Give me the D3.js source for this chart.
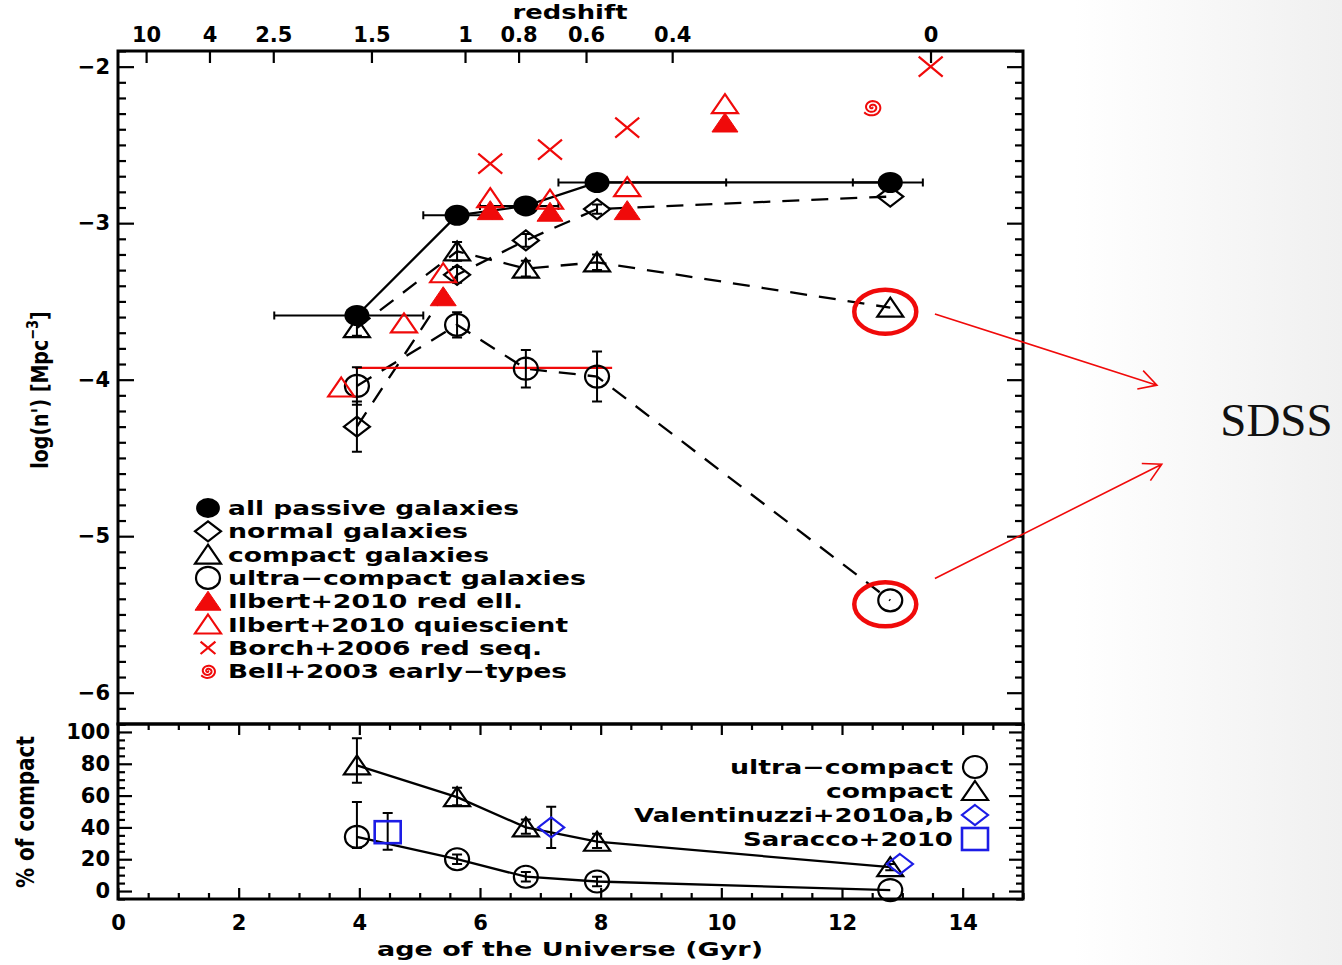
<!DOCTYPE html>
<html>
<head>
<meta charset="utf-8">
<title>Number density of passive galaxies vs cosmic time</title>
<script src="https://cdn.jsdelivr.net/npm/d3@7"></script>
<style>
  html, body { margin: 0; padding: 0; background: #fff; }
  svg { display: block; }
</style>
</head>
<body>
<svg id="chart" width="1342" height="965"></svg>
<script>
// ---------- data ----------
// bin centres and bin edges in age of the Universe (Gyr); the last bin is SDSS
const binAge   = [3.96, 5.62, 6.76, 7.94, 12.8];
const binAgeLo = [2.59, 5.06, 6.0, 7.3, 12.18];
const binAgeHi = [5.06, 6.2, 7.3, 10.08, 13.34];

// log number density, log(n) [Mpc^-3]
const allPassive    = [-3.59, -2.95, -2.89, -2.74, -2.74];
const allPassiveErr = [0.04, 0.03, 0.03, 0.03, 0.02];
const normalGal     = [-4.30, -3.33, -3.11, -2.91, -2.83];
const normalErr     = [0.16, 0.05, 0.04, 0.03, 0];
const compactGal    = [-3.67, -3.18, -3.29, -3.25, -3.54];
const compactErr    = [0.05, 0.06, 0.05, 0.05, 0];
const ultraGal      = [-4.04, -3.65, -3.93, -3.98, -5.41];
const ultraErr      = [0.12, 0.08, 0.12, 0.16, 0];

// literature comparison
const ilbertAge    = [5.39, 6.17, 7.16, 8.44, 10.06];
const ilbertRedEll = [-3.47, -2.92, -2.93, -2.92, -2.36];
const ilbertQAge   = [3.70, 4.74, 5.39, 6.17, 7.16, 8.44, 10.06];
const ilbertQuiesc = [-4.05, -3.64, -3.32, -2.84, -2.85, -2.77, -2.24];
const borchAge     = [6.17, 7.16, 8.44, 13.47];
const borchRedSeq  = [-2.62, -2.53, -2.39, -2.00];
const bellAge      = [12.5];
const bellEarly    = [-2.26];

// level marked by the red guide line, and its extent in age
const guideLevel = -3.925;
const guideSpan  = [3.93, 8.19];

// percentage of compact galaxies
const pctCompact   = [79, 59, 40, 31, 15];
const pctCompactLo = [68, 54, 36, 27, 13];
const pctCompactHi = [96, 65, 45, 36, 17];
const pctUltra     = [34, 20, 9, 6, 0.6];
const pctUltraLo   = [27, 17, 6, 3, 0.6];
const pctUltraHi   = [56, 23, 12, 9, 0.6];
const valentAge    = [7.18, 12.96];
const valentPct    = [40, 17];
const valentLo     = [27, 17];
const valentHi     = [53, 17];
const saraccoAge   = [4.47];
const saraccoPct   = [37];
const saraccoLo    = [26];
const saraccoHi    = [49];

// axis ticks and labels
const ageTicks       = [0, 2, 4, 6, 8, 10, 12, 14];
const redshiftTicks  = [10, 4, 2.5, 1.5, 1, 0.8, 0.6, 0.4, 0];
const redshiftLabels = ["10", "4", "2.5", "1.5", "1", "0.8", "0.6", "0.4", "0"];
const logTicks       = [-6, -5, -4, -3, -2];
const pctTicks       = [0, 20, 40, 60, 80, 100];

const densityLegend  = ["all passive galaxies", "normal galaxies", "compact galaxies",
                        "ultra\u2212compact galaxies", "Ilbert+2010 red ell.",
                        "Ilbert+2010 quiescient", "Borch+2006 red seq.", "Bell+2003 early\u2212types"];
const fractionLegend = ["ultra\u2212compact", "compact", "Valentinuzzi+2010a,b", "Saracco+2010"];

// ---------- setup ----------
const W = 1342, H = 965;
const FONT = '"DejaVu Sans", "Liberation Sans", Arial, sans-serif';
const RED = "#f00a0a", BLUE = "#1c1ce6", INK = "#000";

const frame = { left: 118, right: 1023, top: 51, mid: 724, bottom: 899 };
const x  = d3.scaleLinear().domain([0, 15]).range([frame.left, frame.right]);
const y  = d3.scaleLinear().domain([-6.2, -1.9]).range([frame.mid, frame.top]);
const yp = d3.scaleLinear().domain([-5, 105]).range([frame.bottom, frame.mid]);

// flat LambdaCDM age-redshift relation for the top axis
const H0 = 70, OmegaM = 0.3, OmegaL = 0.7;
const hubbleTimeGyr = 977.8 / H0;
const ageAtRedshift = z => hubbleTimeGyr * 2 / (3 * Math.sqrt(OmegaL)) *
  Math.asinh(Math.sqrt(OmegaL / OmegaM) * Math.pow(1 + z, -1.5));

const svg = d3.select("#chart");
const defs = svg.append("defs");
const bg = defs.append("linearGradient").attr("id", "slideBg")
  .attr("x1", 0).attr("x2", 1).attr("y1", 0).attr("y2", 0);
bg.append("stop").attr("offset", "0.8").attr("stop-color", "#ffffff");
bg.append("stop").attr("offset", "1").attr("stop-color", "#f0f0f0");
svg.append("rect").attr("width", W).attr("height", H).attr("fill", "url(#slideBg)");

// ---------- axes ----------
function finishAxis(g) {
  g.select(".domain").remove();
  g.selectAll(".tick line").attr("stroke", INK).attr("stroke-width", 2.2);
  g.selectAll(".tick text").attr("fill", INK).attr("font-family", FONT)
    .attr("font-weight", "bold").attr("font-size", 21);
}
const noLabel = () => "";
const intLabel = d3.format("d");
const logMinor = d3.range(-62, -18).map(k => k / 10).filter(v => Math.abs(v - Math.round(v)) > 1e-6);
const pctMinor = d3.range(-1, 22).map(k => k * 5).filter(v => v % 20 !== 0);
const ageMinor = d3.range(0, 31).map(k => k / 2).filter(v => v % 2 !== 0);

function addAxis(axis, tx, ty) {
  svg.append("g").attr("transform", `translate(${tx},${ty})`).call(axis).call(finishAxis);
}
// density panel
addAxis(d3.axisLeft(y).tickValues(logTicks).tickSize(-16).tickPadding(8).tickFormat(intLabel), frame.left, 0);
addAxis(d3.axisLeft(y).tickValues(logMinor).tickSize(-8).tickFormat(noLabel), frame.left, 0);
addAxis(d3.axisRight(y).tickValues(logTicks).tickSize(-16).tickFormat(noLabel), frame.right, 0);
addAxis(d3.axisRight(y).tickValues(logMinor).tickSize(-8).tickFormat(noLabel), frame.right, 0);
addAxis(d3.axisTop(x).tickValues(redshiftTicks.map(ageAtRedshift)).tickSize(-12).tickPadding(9)
  .tickFormat((d, i) => redshiftLabels[i]), 0, frame.top);
// fraction panel
addAxis(d3.axisLeft(yp).tickValues(pctTicks).tickSize(-14).tickPadding(8).tickFormat(intLabel), frame.left, 0);
addAxis(d3.axisLeft(yp).tickValues(pctMinor).tickSize(-7).tickFormat(noLabel), frame.left, 0);
addAxis(d3.axisRight(yp).tickValues(pctTicks).tickSize(-14).tickFormat(noLabel), frame.right, 0);
addAxis(d3.axisRight(yp).tickValues(pctMinor).tickSize(-7).tickFormat(noLabel), frame.right, 0);
addAxis(d3.axisBottom(x).tickValues(ageTicks).tickSize(-11).tickPadding(16).tickFormat(intLabel), 0, frame.bottom);
addAxis(d3.axisBottom(x).tickValues(ageMinor).tickSize(-6).tickFormat(noLabel), 0, frame.bottom);
addAxis(d3.axisTop(x).tickValues(ageTicks).tickSize(-11).tickFormat(noLabel), 0, frame.mid);
addAxis(d3.axisTop(x).tickValues(ageMinor).tickSize(-6).tickFormat(noLabel), 0, frame.mid);

// panel frames
[[frame.top, frame.mid], [frame.mid, frame.bottom]].forEach(([t, b]) => {
  svg.append("rect").attr("x", frame.left).attr("y", t)
    .attr("width", frame.right - frame.left).attr("height", b - t)
    .attr("fill", "none").attr("stroke", INK).attr("stroke-width", 3);
});

// ---------- marks ----------
function marker(g, type, cx, cy, color, s = 1) {
  const hw = 12 * s, hh = 10 * s;
  const stroke = el => el.attr("fill", "none").attr("stroke", color).attr("stroke-width", 2.2);
  switch (type) {
    case "dot":
      g.append("ellipse").attr("cx", cx).attr("cy", cy).attr("rx", hw + 0.5).attr("ry", hh + 0.5).attr("fill", color);
      break;
    case "circle":
      stroke(g.append("ellipse").attr("cx", cx).attr("cy", cy).attr("rx", hw).attr("ry", hh + 1));
      break;
    case "diamond":
      stroke(g.append("path").attr("d",
        `M${cx},${cy - hh}L${cx + hw + 1},${cy}L${cx},${cy + hh}L${cx - hw - 1},${cy}Z`));
      break;
    case "triangle":
    case "triFill": {
      const p = g.append("path").attr("d",
        `M${cx},${cy - hh}L${cx + hw + 1},${cy + hh * 0.9}L${cx - hw - 1},${cy + hh * 0.9}Z`);
      if (type === "triFill") p.attr("fill", color).attr("stroke", color).attr("stroke-width", 1);
      else stroke(p);
      break;
    }
    case "cross":
      stroke(g.append("path").attr("d",
        `M${cx - hw},${cy - hh}L${cx + hw},${cy + hh}M${cx - hw},${cy + hh}L${cx + hw},${cy - hh}`));
      break;
    case "square":
      stroke(g.append("rect").attr("x", cx - hw - 1).attr("y", cy - hh - 1)
        .attr("width", 2 * hw + 2).attr("height", 2 * hh + 2)).attr("stroke-width", 2.6);
      break;
    case "spiral": {
      const turns = 2.4, n = 90, rMax = 8.5 * s, tMax = turns * 2 * Math.PI;
      const pts = d3.range(n + 1).map(k => {
        const t = k / n * tMax, r = rMax * k / n;
        return [cx + 1.15 * r * Math.cos(t), cy + r * Math.sin(t)];
      });
      stroke(g.append("path").attr("d", d3.line()(pts))).attr("stroke-width", 2);
      break;
    }
  }
}
function vBar(g, px, pyTop, pyBot, color, cap = 5) {
  g.append("path").attr("fill", "none").attr("stroke", color).attr("stroke-width", 2)
    .attr("d", `M${px},${pyTop}V${pyBot}M${px - cap},${pyTop}H${px + cap}M${px - cap},${pyBot}H${px + cap}`);
}
function hBar(g, pxL, pxR, py, color, cap = 4) {
  g.append("path").attr("fill", "none").attr("stroke", color).attr("stroke-width", 2)
    .attr("d", `M${pxL},${py}H${pxR}M${pxL},${py - cap}V${py + cap}M${pxR},${py - cap}V${py + cap}`);
}
const zip = (xs, ys) => xs.map((v, i) => [v, ys[i]]);
function connect(g, xs, ys, yScale, dashed) {
  const p = g.append("path").attr("d", d3.line().x(d => x(d[0])).y(d => yScale(d[1]))(zip(xs, ys)))
    .attr("fill", "none").attr("stroke", INK).attr("stroke-width", 2.3);
  if (dashed) p.attr("stroke-dasharray", "17,12");
}

// density panel
const gUp = svg.append("g");
connect(gUp, binAge, normalGal, y, true);
connect(gUp, binAge, compactGal, y, true);
connect(gUp, binAge, ultraGal, y, true);
connect(gUp, binAge, allPassive, y, false);

gUp.append("line").attr("x1", x(guideSpan[0])).attr("x2", x(guideSpan[1]))
  .attr("y1", y(guideLevel)).attr("y2", y(guideLevel))
  .attr("stroke", RED).attr("stroke-width", 2.2);

[[normalGal, normalErr, "diamond"], [compactGal, compactErr, "triangle"], [ultraGal, ultraErr, "circle"]]
  .forEach(([vals, errs, type]) => {
    vals.forEach((v, i) => {
      if (errs[i] > 0) vBar(gUp, x(binAge[i]), y(v + errs[i]), y(v - errs[i]), INK);
      marker(gUp, type, x(binAge[i]), y(v), INK);
    });
  });
allPassive.forEach((v, i) => {
  hBar(gUp, x(binAgeLo[i]), x(binAgeHi[i]), y(v), INK);
  vBar(gUp, x(binAge[i]), y(v + allPassiveErr[i]), y(v - allPassiveErr[i]), INK, 4);
  marker(gUp, "dot", x(binAge[i]), y(v), INK);
});
ilbertRedEll.forEach((v, i) => marker(gUp, "triFill", x(ilbertAge[i]), y(v), RED));
ilbertQuiesc.forEach((v, i) => marker(gUp, "triangle", x(ilbertQAge[i]), y(v), RED));
borchRedSeq.forEach((v, i) => marker(gUp, "cross", x(borchAge[i]), y(v), RED));
bellEarly.forEach((v, i) => marker(gUp, "spiral", x(bellAge[i]), y(v), RED));

// fraction panel
const gLo = svg.append("g");
connect(gLo, binAge, pctCompact, yp, false);
connect(gLo, binAge, pctUltra, yp, false);
pctCompact.forEach((v, i) => {
  if (pctCompactHi[i] > pctCompactLo[i]) vBar(gLo, x(binAge[i]), yp(pctCompactHi[i]), yp(pctCompactLo[i]), INK);
  marker(gLo, "triangle", x(binAge[i]), yp(v), INK);
});
pctUltra.forEach((v, i) => {
  if (pctUltraHi[i] > pctUltraLo[i]) vBar(gLo, x(binAge[i]), yp(pctUltraHi[i]), yp(pctUltraLo[i]), INK);
  marker(gLo, "circle", x(binAge[i]), yp(v), INK);
});
valentPct.forEach((v, i) => {
  if (valentHi[i] > valentLo[i]) vBar(gLo, x(valentAge[i]), yp(valentHi[i]), yp(valentLo[i]), INK);
  marker(gLo, "diamond", x(valentAge[i]), yp(v), BLUE);
});
saraccoPct.forEach((v, i) => {
  vBar(gLo, x(saraccoAge[i]), yp(saraccoHi[i]), yp(saraccoLo[i]), INK);
  marker(gLo, "square", x(saraccoAge[i]), yp(v), BLUE);
});

// ---------- text ----------
function fitText(g, str, px, py, width, anchor, size) {
  return g.append("text").attr("x", px).attr("y", py)
    .attr("text-anchor", anchor || "start").attr("font-family", FONT)
    .attr("font-weight", "bold").attr("font-size", size || 20)
    .attr("textLength", width).attr("lengthAdjust", "spacingAndGlyphs")
    .attr("fill", INK).text(str);
}

// legends
const upLegend = { symX: 208, textX: 228, y0: 508, dy: 23.3,
  widths: [291, 240, 261, 358, 295, 340, 314, 339],
  types: ["dot", "diamond", "triangle", "circle", "triFill", "triangle", "cross", "spiral"],
  colors: [INK, INK, INK, INK, RED, RED, RED, RED],
  scales: [0.95, 1, 1, 1, 1, 1, 0.62, 0.85] };
const gLegUp = svg.append("g");
densityLegend.forEach((lab, i) => {
  const cy = upLegend.y0 + i * upLegend.dy;
  marker(gLegUp, upLegend.types[i], upLegend.symX, cy, upLegend.colors[i], upLegend.scales[i]);
  fitText(gLegUp, lab, upLegend.textX, cy + 7, upLegend.widths[i]);
});

const loLegend = { symX: 975, textRight: 953, y0: 767, dy: 24,
  widths: [223, 127, 319, 210],
  types: ["circle", "triangle", "diamond", "square"],
  colors: [INK, INK, BLUE, BLUE] };
const gLegLo = svg.append("g");
fractionLegend.forEach((lab, i) => {
  const cy = loLegend.y0 + i * loLegend.dy;
  marker(gLegLo, loLegend.types[i], loLegend.symX, cy, loLegend.colors[i]);
  fitText(gLegLo, lab, loLegend.textRight, cy + 7, loLegend.widths[i], "end");
});

// axis titles
fitText(svg, "redshift", 570, 19, 115, "middle", 19);
fitText(svg, "age of the Universe (Gyr)", 570, 956, 386, "middle");

const yTitle = svg.append("text").attr("transform", "translate(48,390) rotate(-90) scale(1,1.25)")
  .attr("text-anchor", "middle").attr("font-family", FONT).attr("font-weight", "bold")
  .attr("font-size", 19).attr("fill", INK);
yTitle.append("tspan").text("log(n') [Mpc");
yTitle.append("tspan").attr("dy", -8).attr("font-size", 13).text("\u22123");
yTitle.append("tspan").attr("dy", 8).text("]");

svg.append("text").attr("transform", "translate(34,812) rotate(-90) scale(1,1.25)")
  .attr("text-anchor", "middle").attr("font-family", FONT).attr("font-weight", "bold")
  .attr("font-size", 20).attr("fill", INK).text("% of compact");

// ---------- SDSS callout ----------
const gNote = svg.append("g");
const sdssIdx = binAge.length - 1;
[compactGal[sdssIdx], ultraGal[sdssIdx]].forEach(v => {
  gNote.append("ellipse").attr("cx", x(binAge[sdssIdx]) - 5).attr("cy", y(v) + 4)
    .attr("rx", 31).attr("ry", 22).attr("fill", "none")
    .attr("stroke", RED).attr("stroke-width", 4.5);
});
const calloutArrows = [
  { from: [13.54, -3.58], to: [17.22, -4.035] },
  { from: [13.54, -5.27], to: [17.30, -4.54] }
];
calloutArrows.forEach(a => {
  const x1 = x(a.from[0]), y1 = y(a.from[1]), x2 = x(a.to[0]), y2 = y(a.to[1]);
  const ang = Math.atan2(y2 - y1, x2 - x1), len = 20, spread = 0.5;
  const h1 = [x2 - len * Math.cos(ang - spread), y2 - len * Math.sin(ang - spread)];
  const h2 = [x2 - len * Math.cos(ang + spread), y2 - len * Math.sin(ang + spread)];
  gNote.append("path").attr("fill", "none").attr("stroke", RED).attr("stroke-width", 1.6)
    .attr("d", `M${x1},${y1}L${x2},${y2}M${h1[0]},${h1[1]}L${x2},${y2}L${h2[0]},${h2[1]}`);
});
gNote.append("text").attr("x", x(18.27)).attr("y", y(-4.36))
  .attr("font-family", '"Liberation Serif", "DejaVu Serif", serif')
  .attr("font-size", 47).attr("fill", "#111").text("SDSS");
</script>
</body>
</html>
